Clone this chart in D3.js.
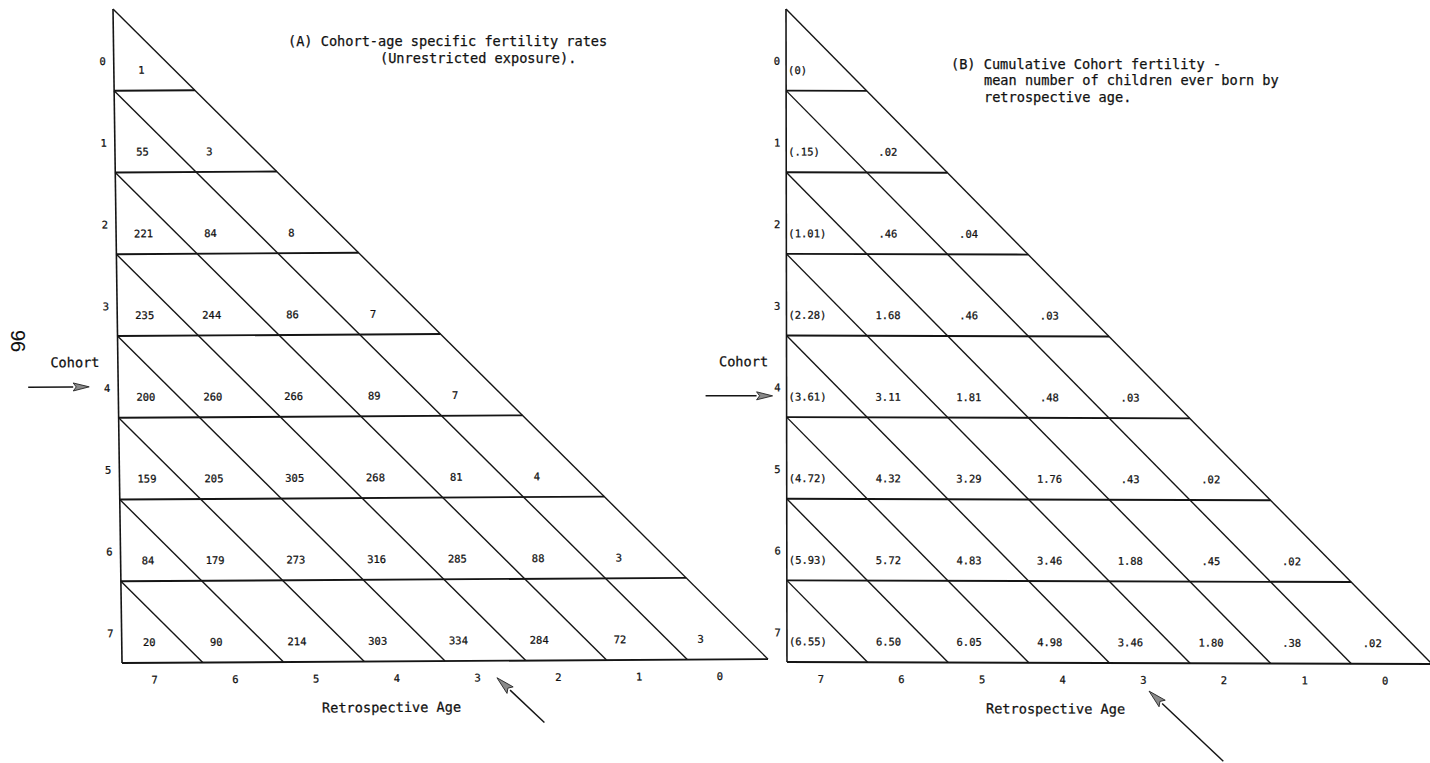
<!DOCTYPE html>
<html>
<head>
<meta charset="utf-8">
<script src="https://cdn.jsdelivr.net/npm/d3@7"></script>
<style>
  body { margin: 0; background: #fff; }
  text { font-family: "DejaVu Sans Mono", monospace; fill: #111; stroke: #111; stroke-width: 0.25px; }
</style>
</head>
<body>
<div id="chart"></div>
<script>
// cohorts (rows, top to bottom) and retrospective ages (columns, left to right)
var cohorts = [0, 1, 2, 3, 4, 5, 6, 7];
var ages = [7, 6, 5, 4, 3, 2, 1, 0];

// (A) cohort-age specific fertility rates, one list per cohort
var ratesA = [
  [1],
  [55, 3],
  [221, 84, 8],
  [235, 244, 86, 7],
  [200, 260, 266, 89, 7],
  [159, 205, 305, 268, 81, 4],
  [84, 179, 273, 316, 285, 88, 3],
  [20, 90, 214, 303, 334, 284, 72, 3]
];

// (B) cumulative cohort fertility, first entry of each row shown in brackets
var cumB = [
  [0],
  [0.15, 0.02],
  [1.01, 0.46, 0.04],
  [2.28, 1.68, 0.46, 0.03],
  [3.61, 3.11, 1.81, 0.48, 0.03],
  [4.72, 4.32, 3.29, 1.76, 0.43, 0.02],
  [5.93, 5.72, 4.83, 3.46, 1.88, 0.45, 0.02],
  [6.55, 6.50, 6.05, 4.98, 3.46, 1.80, 0.38, 0.02]
];

var titleA = ["(A) Cohort-age specific fertility rates", "(Unrestricted exposure)."];
var titleB = ["(B) Cumulative Cohort fertility -", "mean number of children ever born by", "retrospective age."];

var svg = d3.select("#chart")
  .append("svg")
    .attr("width", 1430)
    .attr("height", 763);

var f2 = d3.format(".2f");
function fmtB(v) {
  if (v === 0) return "0";
  return f2(v).replace(/^0\./, ".");
}

function arrow(g, x1, y1, x2, y2, len, half) {
  // shaft from (x1,y1) to the tip (x2,y2), grey filled head
  var dx = x2 - x1, dy = y2 - y1, L = Math.sqrt(dx * dx + dy * dy);
  var ux = dx / L, uy = dy / L;
  var bx = x2 - ux * len, by = y2 - uy * len;
  g.append("line")
    .attr("x1", x1).attr("y1", y1)
    .attr("x2", bx).attr("y2", by)
    .attr("stroke", "#151515").attr("stroke-width", 1.5);
  g.append("path")
    .attr("d", "M" + x2 + "," + y2 +
      "L" + (bx - uy * half) + "," + (by + ux * half) +
      "L" + (bx + ux * 3) + "," + (by + uy * 3) +
      "L" + (bx + uy * half) + "," + (by - ux * half) + "Z")
    .attr("fill", "#8a8a8a")
    .attr("stroke", "#222")
    .attr("stroke-width", 0.9);
}

function drawPanel(p) {
  var n = cohorts.length;
  var g = svg.append("g")
    .attr("transform", "translate(" + p.ox + "," + p.oy + ") matrix(1," + p.skewY + "," + p.skewX + ",1,0,0)");

  var x = d3.scaleLinear().domain([0, ages.length]).range([0, p.W]);
  var y = d3.scaleLinear().domain([0, n]).range([0, p.H]);

  // left edge
  g.append("line")
    .attr("x1", x(0)).attr("y1", y(0))
    .attr("x2", x(0)).attr("y2", y(n))
    .attr("stroke", "#151515").attr("stroke-width", 1.6);

  // horizontal row boundaries
  g.selectAll(".hline")
    .data(cohorts)
    .join("line")
      .attr("class", "hline")
      .attr("x1", x(0))
      .attr("x2", function(d, i) { return x(i + 1); })
      .attr("y1", function(d, i) { return y(i + 1); })
      .attr("y2", function(d, i) { return y(i + 1); })
      .attr("stroke", "#151515").attr("stroke-width", 1.9);

  // diagonals, one starting at the left end of each row line (first is the hypotenuse)
  g.selectAll(".dline")
    .data(cohorts)
    .join("line")
      .attr("class", "dline")
      .attr("x1", x(0))
      .attr("y1", function(d, i) { return y(i); })
      .attr("x2", function(d, i) { return x(n - i); })
      .attr("y2", y(n))
      .attr("stroke", "#151515").attr("stroke-width", 1.4);

  // cell values
  var cells = p.values.flatMap(function(row, i) {
    return row.map(function(v, c) { return {i: i, c: c, v: v}; });
  });
  g.selectAll(".val")
    .data(cells)
    .join("text")
      .attr("class", "val")
      .attr("x", function(d) {
        if (d.c === 0) return p.firstLeft ? x(0) + 2 : x(p.firstOff);
        return x(d.c + p.cellOff);
      })
      .attr("y", function(d) { return y(d.i + 0.75); })
      .attr("dy", "0.35em")
      .attr("text-anchor", function(d) { return (d.c === 0 && p.firstLeft) ? "start" : "middle"; })
      .style("font-size", "10.5px")
      .text(function(d) { return p.fmt(d.v, d.c); });

  // cohort tick labels
  g.selectAll(".rowlab")
    .data(cohorts)
    .join("text")
      .attr("class", "rowlab")
      .attr("x", x(0) - p.rowGap)
      .attr("y", function(d, i) { return y(i + 0.64); })
      .attr("dy", "0.35em")
      .attr("text-anchor", "end")
      .style("font-size", "10.5px")
      .text(function(d) { return d; });

  // retrospective age tick labels
  g.selectAll(".collab")
    .data(ages)
    .join("text")
      .attr("class", "collab")
      .attr("x", function(d, i) { return x(i + p.colOff); })
      .attr("y", y(n) + 17)
      .attr("dy", "0.35em")
      .attr("text-anchor", "middle")
      .style("font-size", "10.5px")
      .text(function(d) { return d; });

  g.append("text")
    .attr("x", x(3.33))
    .attr("y", y(n) + 46)
    .attr("dy", "0.35em")
    .attr("text-anchor", "middle")
    .style("font-size", "13.6px")
    .text("Retrospective Age");

  g.append("text")
    .attr("x", x(0) - 43)
    .attr("y", y(4.32))
    .attr("dy", "0.35em")
    .attr("text-anchor", "middle")
    .style("font-size", "13.6px")
    .text("Cohort");

  // arrows pointing at cohort 4 and at age 3
  arrow(g, x(0) + p.cArrow[0], y(p.cArrow[2]), x(0) + p.cArrow[1], y(p.cArrow[2]), 16, 4);
  arrow(g, x(p.aArrow[0]), y(n) + p.aArrow[1], x(p.aArrow[2]), y(n) + p.aArrow[3], 18, 4.5);
}

drawPanel({
  ox: 113, oy: 9, W: 646, H: 654, skewX: 0.0138, skewY: -0.006,
  values: ratesA,
  fmt: function(v) { return String(v); },
  firstLeft: false, firstOff: 0.34, cellOff: 0.17,
  rowGap: 8, colOff: 0.4,
  cArrow: [-90, -29, 4.62],
  aArrow: [5.22, 62, 4.64, 17]
});

drawPanel({
  ox: 786, oy: 9, W: 645, H: 653, skewX: 0.0015, skewY: 0.003,
  values: cumB,
  fmt: function(v, c) { return c === 0 ? "(" + fmtB(v) + ")" : fmtB(v); },
  firstLeft: true, firstOff: 0, cellOff: 0.26,
  rowGap: 6, colOff: 0.42,
  cArrow: [-81, -14, 4.74],
  aArrow: [5.41, 98, 4.49, 28]
});

// panel titles
svg.append("g").selectAll("text")
  .data(titleA)
  .join("text")
    .attr("x", function(d, i) { return i === 0 ? 288 : 380; })
    .attr("y", function(d, i) { return 41 + i * 17; })
    .attr("dy", "0.35em")
    .style("font-size", "13.6px")
    .text(function(d) { return d; });

svg.append("g").selectAll("text")
  .data(titleB)
  .join("text")
    .attr("x", function(d, i) { return i === 0 ? 951 : 984; })
    .attr("y", function(d, i) { return 64 + i * 16.5; })
    .attr("dy", "0.35em")
    .style("font-size", "13.6px")
    .text(function(d) { return d; });

// page number, printed sideways
svg.append("text")
  .attr("transform", "translate(18,341) rotate(90)")
  .attr("text-anchor", "middle")
  .attr("dy", "0.35em")
  .style("font-family", "Liberation Sans, sans-serif")
  .style("font-size", "20px")
  .style("stroke-width", "0.1px")
  .text("96");
</script>
</body>
</html>
